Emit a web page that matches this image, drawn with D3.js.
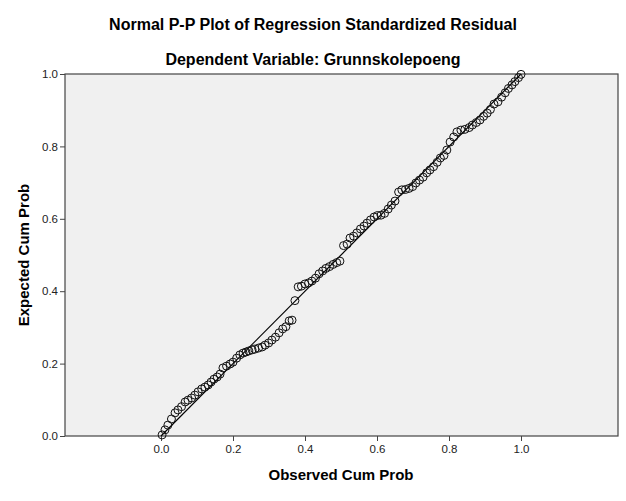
<!DOCTYPE html>
<html><head><meta charset="utf-8">
<script src="https://cdn.jsdelivr.net/npm/d3@7/dist/d3.min.js"></script>
<style>body{margin:0;background:#fff}svg{display:block}</style>
</head><body><svg id="c" width="626" height="501"></svg>
<script>
const observed = [0.003,0.011,0.019,0.029,0.039,0.047,0.057,0.067,0.075,0.085,0.094,0.103,0.113,0.122,0.131,0.139,0.147,0.156,0.164,0.172,0.182,0.192,0.200,0.210,0.219,0.228,0.236,0.244,0.253,0.261,0.271,0.281,0.289,0.299,0.308,0.318,0.328,0.338,0.347,0.356,0.364,0.372,0.381,0.390,0.400,0.410,0.419,0.429,0.439,0.449,0.458,0.468,0.478,0.488,0.497,0.507,0.517,0.525,0.535,0.544,0.554,0.564,0.572,0.582,0.592,0.601,0.611,0.621,0.631,0.640,0.650,0.660,0.669,0.679,0.689,0.699,0.708,0.718,0.728,0.738,0.747,0.757,0.767,0.776,0.786,0.794,0.803,0.813,0.822,0.833,0.844,0.856,0.865,0.876,0.886,0.896,0.906,0.915,0.925,0.936,0.946,0.956,0.965,0.975,0.983,0.993,1.000];
const expected = [0.003,0.017,0.030,0.047,0.064,0.072,0.081,0.094,0.099,0.105,0.113,0.122,0.130,0.135,0.141,0.149,0.157,0.163,0.171,0.188,0.193,0.199,0.204,0.215,0.224,0.229,0.232,0.235,0.238,0.240,0.243,0.246,0.251,0.257,0.265,0.273,0.285,0.296,0.302,0.318,0.320,0.374,0.412,0.414,0.420,0.423,0.428,0.436,0.448,0.456,0.463,0.468,0.474,0.479,0.483,0.526,0.530,0.547,0.552,0.561,0.572,0.580,0.588,0.597,0.605,0.609,0.610,0.615,0.627,0.638,0.649,0.674,0.680,0.681,0.684,0.689,0.699,0.707,0.715,0.727,0.735,0.744,0.756,0.768,0.775,0.790,0.812,0.826,0.840,0.845,0.847,0.852,0.859,0.866,0.873,0.883,0.892,0.902,0.917,0.923,0.936,0.948,0.960,0.970,0.979,0.990,0.999];
const xTicks = [0,0.2,0.4,0.6,0.8,1.0];
const yTicks = [0,0.2,0.4,0.6,0.8,1.0];
const refLine = [[0,0],[1,1]];

const svg = d3.select("#c");
const L=65,R=618,T=74,B=436;
const x = d3.scaleLinear().domain([-0.2667,1.2694]).range([L,R]);
const y = d3.scaleLinear().domain([0,1]).range([B,T]);
const font = "'Liberation Sans', Arial, sans-serif";

svg.append("rect").attr("x",L).attr("y",T).attr("width",R-L).attr("height",B-T)
  .attr("fill","#f0f0f0").attr("stroke","#444").attr("stroke-width",1.2);

const xa = svg.append("g").attr("transform",`translate(0,${B})`)
  .call(d3.axisBottom(x).tickValues(xTicks).tickSize(5).tickPadding(4).tickFormat(d3.format(".1f")));
const ya = svg.append("g").attr("transform",`translate(${L},0)`)
  .call(d3.axisLeft(y).tickValues(yTicks).tickSize(5).tickPadding(2).tickFormat(d3.format(".1f")));
[xa,ya].forEach(a=>{
  a.select(".domain").remove();
  a.selectAll(".tick line").attr("stroke","#444");
  a.selectAll(".tick text").attr("font-family",font).attr("font-size",11.5).attr("fill","#222");
});

const data = observed.map((o,i)=>({o,e:expected[i]}));
svg.append("path").datum(refLine)
  .attr("d",d3.line().x(d=>x(d[0])).y(d=>y(d[1])))
  .attr("stroke","#000").attr("stroke-width",1.2).attr("fill","none");
svg.append("g").selectAll("circle").data(data).join("circle")
  .attr("cx",d=>x(d.o)).attr("cy",d=>y(d.e)).attr("r",4)
  .attr("fill","none").attr("stroke","#111").attr("stroke-width",1);

svg.append("text").attr("x",313).attr("y",30).attr("text-anchor","middle")
  .attr("font-family",font).attr("font-weight","bold").attr("font-size",16).text("Normal P-P Plot of Regression Standardized Residual");
svg.append("text").attr("x",313).attr("y",65).attr("text-anchor","middle")
  .attr("font-family",font).attr("font-weight","bold").attr("font-size",16).text("Dependent Variable: Grunnskolepoeng");
svg.append("text").attr("x",341).attr("y",480).attr("text-anchor","middle")
  .attr("font-family",font).attr("font-weight","bold").attr("font-size",15).text("Observed Cum Prob");
svg.append("text").attr("transform","translate(29,255) rotate(-90)").attr("text-anchor","middle")
  .attr("font-family",font).attr("font-weight","bold").attr("font-size",15).text("Expected Cum Prob");
</script></body></html>
